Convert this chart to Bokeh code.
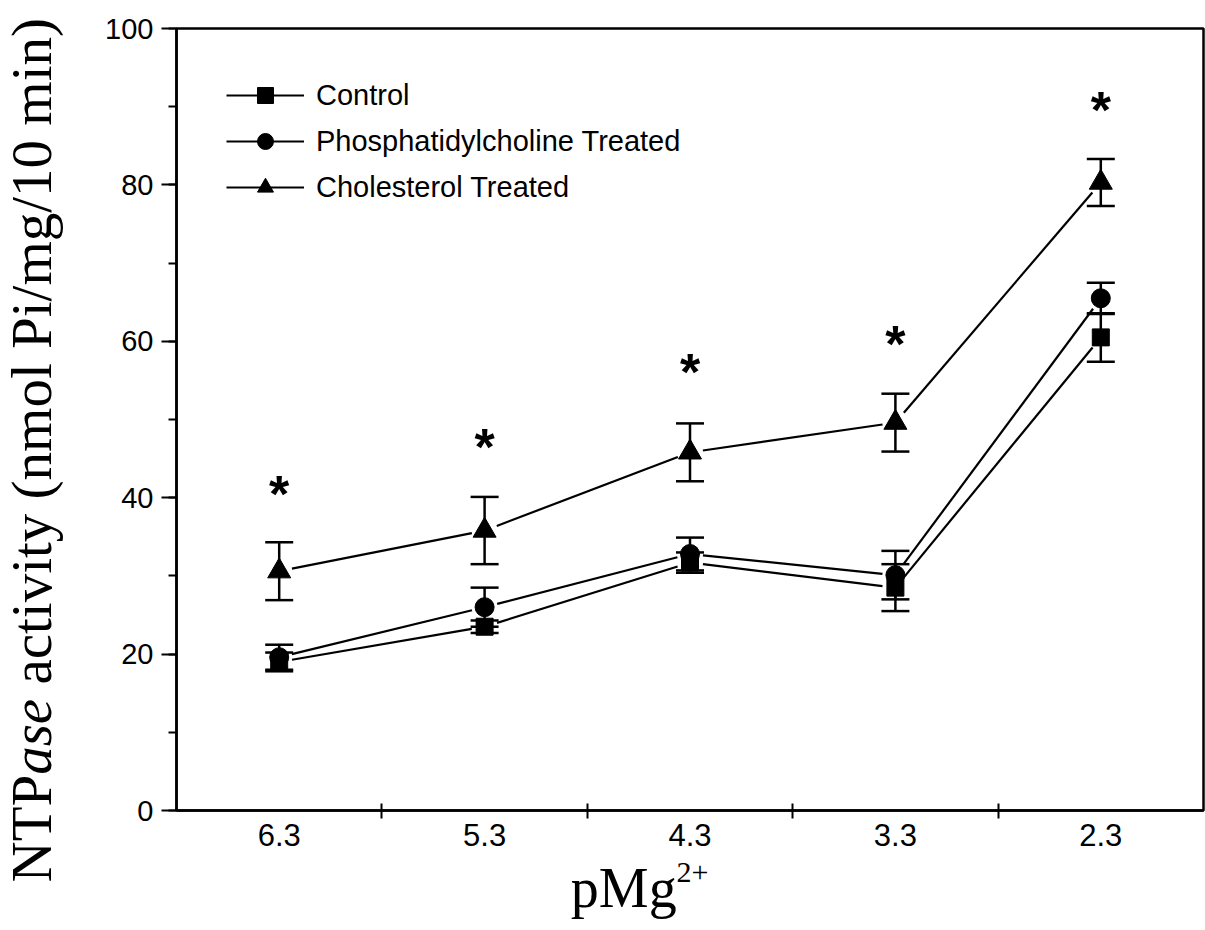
import math
from bokeh.plotting import figure
from bokeh.layouts import row, column
from bokeh.models import (ColumnDataSource, Range1d, FixedTicker, SingleIntervalTicker,
                          Whisker, TeeHead, Legend, LegendItem)
from bokeh.core.properties import value
from bokeh.embed import file_html
from bokeh.resources import INLINE

# ---------------- data ----------------
categories = ["6.3", "5.3", "4.3", "3.3", "2.3"]
control = [19.0, 23.5, 31.7, 28.5, 60.5]
control_err = [1.2, 0.8, 1.3, 3.0, 3.1]
pc = [19.6, 26.0, 32.8, 30.1, 65.5]
pc_err = [1.6, 2.5, 2.1, 3.1, 2.0]
chol = [30.6, 35.8, 45.8, 49.6, 80.3]
chol_err = [3.7, 4.3, 3.7, 3.7, 3.0]
star_y = [41.3, 47.3, 56.9, 60.4, 90.4]
series_names = ["Control", "Phosphatidylcholine Treated", "Cholesterol Treated"]
y_title = ["NTP", "ase", "activity (nmol Pi/mg/10 min)"]
x_title = ["pMg", "2+"]

# ---------------- layout ----------------
W, H = 1205, 930
STRIP_L = 80          # left strip holding the y title
STRIP_B = 76          # bottom strip holding the x title
MW, MH = W - STRIP_L, H - STRIP_B
LEFT, RIGHT, TOP = 176 - STRIP_L, 2, 28
BOTTOM = MH - 810
FW, FH = MW - LEFT - RIGHT, MH - TOP - BOTTOM
XMAX, YMAX = 5.0, 100.0
xpos = [i + 0.5 for i in range(len(categories))]
BASE_SHIFT = 0.45     # svg text drawn ~0.45em lower than the alphabetic anchor
XSTRIP_FIX = 58       # measured horizontal offset of the bottom strip text

p = figure(width=MW, height=MH, x_range=Range1d(0, XMAX), y_range=Range1d(0, YMAX),
           output_backend="svg", toolbar_location=None,
           min_border_left=LEFT, min_border_right=RIGHT,
           min_border_top=TOP, min_border_bottom=BOTTOM,
           background_fill_color="white", border_fill_color="white")
p.xgrid.visible = False
p.ygrid.visible = False
p.outline_line_color = "black"
p.outline_line_width = 2.5

# x axis
p.xaxis.ticker = FixedTicker(ticks=xpos, minor_ticks=[1, 2, 3, 4])
p.xaxis.major_label_overrides = {x: c for x, c in zip(xpos, categories)}
p.xaxis.major_tick_in = 0
p.xaxis.major_tick_out = 0
p.xaxis.minor_tick_in = 7
p.xaxis.minor_tick_out = 8
p.xaxis.minor_tick_line_width = 2
p.xaxis.axis_line_width = 2.5
p.xaxis.major_label_standoff = 5
p.xaxis.major_label_text_font = "Liberation Sans"
p.xaxis.major_label_text_font_size = "31px"
p.xaxis.major_label_text_color = "black"

# y axis
p.yaxis.ticker = SingleIntervalTicker(interval=20, num_minor_ticks=2)
p.yaxis.major_tick_in = 0
p.yaxis.major_tick_out = 15
p.yaxis.minor_tick_in = 0
p.yaxis.minor_tick_out = 8
p.yaxis.major_tick_line_width = 2
p.yaxis.minor_tick_line_width = 2
p.yaxis.axis_line_width = 2.5
p.yaxis.major_label_standoff = 8
p.yaxis.major_label_text_font = "Liberation Sans"
p.yaxis.major_label_text_font_size = "29px"
p.yaxis.major_label_text_color = "black"

sx = FW / XMAX
sy = FH / YMAX
GAP = 13.0


def gapped_segments(xs, ys):
    x0, y0, x1, y1 = [], [], [], []
    for i in range(len(xs) - 1):
        dxp = (xs[i + 1] - xs[i]) * sx
        dyp = (ys[i + 1] - ys[i]) * sy
        L = math.hypot(dxp, dyp)
        ux, uy = dxp / L, dyp / L
        x0.append(xs[i] + GAP * ux / sx)
        y0.append(ys[i] + GAP * uy / sy)
        x1.append(xs[i + 1] - GAP * ux / sx)
        y1.append(ys[i + 1] - GAP * uy / sy)
    return dict(x0=x0, y0=y0, x1=x1, y1=y1)


items = []
for name, vals, errs, marker, msize in [
    (series_names[0], control, control_err, "square", 17),
    (series_names[1], pc, pc_err, "circle", 19),
    (series_names[2], chol, chol_err, "triangle", 23),
]:
    src = ColumnDataSource(dict(x=xpos, y=vals,
                                upper=[v + e for v, e in zip(vals, errs)],
                                lower=[v - e for v, e in zip(vals, errs)]))
    wk = Whisker(source=src, base="x", upper="upper", lower="lower", dimension="height",
                 line_width=2.5, line_color="black",
                 upper_head=TeeHead(size=28, line_width=2.5, line_color="black"),
                 lower_head=TeeHead(size=28, line_width=2.5, line_color="black"))
    p.add_layout(wk)
    seg = p.segment(x0="x0", y0="y0", x1="x1", y1="y1",
                    source=ColumnDataSource(gapped_segments(xpos, vals)),
                    line_color="black", line_width=2.2)
    sc = p.scatter(x="x", y="y", source=src, marker=marker, size=msize,
                   fill_color="black", line_color="black")
    items.append(LegendItem(label=name, renderers=[seg, sc]))

# significance stars
p.text(x=xpos, y=star_y, text=["*"] * len(xpos), text_font=value("Liberation Sans"),
       text_font_style="bold", text_font_size="52px", text_align="center",
       text_baseline="alphabetic", y_offset=6, text_color="black")

legend = Legend(items=items, location=(50, 603), border_line_alpha=0,
                background_fill_alpha=0, padding=0, margin=0, spacing=6,
                glyph_height=40, glyph_width=78, label_standoff=12,
                label_text_font="Liberation Sans", label_text_font_size="29px",
                label_text_color="black")
p.add_layout(legend)


def strip(w, h):
    s = figure(width=w, height=h, x_range=Range1d(0, w), y_range=Range1d(0, h),
               x_axis_type=None, y_axis_type=None, output_backend="svg",
               toolbar_location=None, min_border=0,
               min_border_left=0, min_border_right=0, min_border_top=0, min_border_bottom=0,
               background_fill_color="white", border_fill_color="white")
    s.outline_line_color = None
    s.xgrid.visible = False
    s.ygrid.visible = False
    return s


# y axis title (NTP + italic "ase" + rest), rotated, in left strip
F = 57
ls = strip(STRIP_L, H)
base_x = 31
start_y = H - 882
widths = [1.889 * F, 1.333 * F, 0.25 * F]
offs = [0.0, widths[0], widths[0] + widths[1] + widths[2]]
styles = ["normal", "italic", "normal"]
for txt, off, st in zip(y_title, offs, styles):
    ls.text(x=[base_x], y=[start_y + off], text=[txt], angle=math.pi / 2,
            text_font=value("Liberation Serif"), text_font_style=st,
            text_font_size=f"{F}px", text_align="left", text_baseline="alphabetic",
            text_color="black")

# x axis title pMg2+, in bottom strip
FX = 56
FS = 30
bs = strip(MW, STRIP_B)
bx = 570 - STRIP_L - XSTRIP_FIX
bs.text(x=[bx], y=[H - 913 + BASE_SHIFT * FX], text=[x_title[0]],
        text_font=value("Liberation Serif"),
        text_font_size=f"{FX}px", text_align="left", text_baseline="alphabetic",
        text_color="black")
bs.text(x=[bx + 1.889 * FX + 10], y=[H - 885 + BASE_SHIFT * FS], text=[x_title[1]],
        text_font=value("Liberation Serif"), text_font_size=f"{FS}px", text_align="left",
        text_baseline="alphabetic", text_color="black")

layout = row(ls, column(p, bs, spacing=0), spacing=0)
open("out.html", "w").write(file_html(layout, INLINE))
